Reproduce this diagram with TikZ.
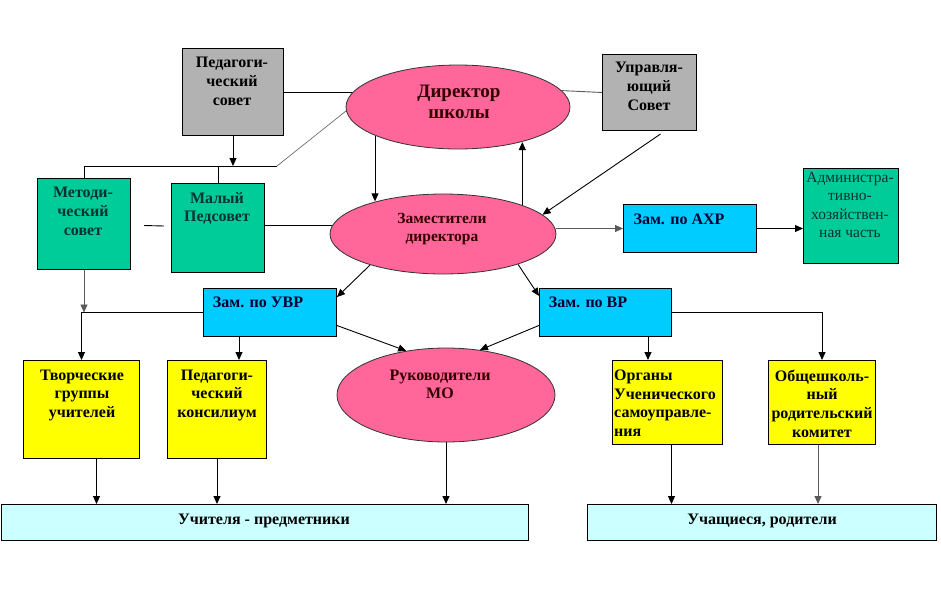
\documentclass[tikz,border=0pt]{standalone}
\usepackage{fontspec}
\setmainfont{Liberation Serif}
\usetikzlibrary{arrows.meta,shapes.geometric,calc,backgrounds}
\definecolor{cgray}{RGB}{178,178,178}
\definecolor{cpink}{RGB}{255,102,153}
\definecolor{cteal}{RGB}{0,204,153}
\definecolor{ccyan}{RGB}{0,204,255}
\definecolor{cyell}{RGB}{255,255,0}
\definecolor{clcyan}{RGB}{204,255,255}
\definecolor{tteal}{RGB}{0,51,51}
\definecolor{tpink}{RGB}{51,0,0}
\definecolor{tcyan}{RGB}{0,0,51}
\definecolor{lgray}{RGB}{90,90,90}
\begin{document}
\begin{tikzpicture}[x=1pt,y=-1pt,
 box/.style={draw=black, line width=1pt, inner sep=0pt, anchor=north west},
 oval/.style={ellipse, draw=black!80, line width=0.8pt, fill=cpink, inner sep=0pt},
 lbl/.style={inner sep=0pt, font=\bfseries\fontsize{16}{18.7}\selectfont, align=center, anchor=north},
 con/.style={line width=0.9pt, draw=black},
 gcon/.style={line width=0.9pt, draw=lgray},
 arr/.style={con, -{Triangle[length=8pt,width=7pt]}},
 garr/.style={gcon, -{Triangle[length=8pt,width=7pt]}},
 ]
\useasboundingbox (0,0) rectangle (941,600);

% boxes
\node[box, fill=cgray, minimum width=101pt, minimum height=87pt] (ps) at (182,48) {};
\node[box, fill=cgray, minimum width=94pt, minimum height=76pt] (upr) at (602,54) {};
\node[box, fill=cteal, minimum width=93pt, minimum height=91pt] (met) at (37,178) {};
\node[box, fill=cteal, minimum width=93pt, minimum height=89pt] (maly) at (171,183) {};
\node[box, fill=ccyan, minimum width=133pt, minimum height=48pt] (axr) at (623,204) {};
\node[box, fill=cteal, minimum width=95pt, minimum height=95pt] (adm) at (803,168) {};
\node[box, fill=ccyan, minimum width=133pt, minimum height=48pt] (uvr) at (203,288) {};
\node[box, fill=ccyan, minimum width=132pt, minimum height=48pt] (vr) at (539,288) {};
\node[box, fill=cyell, minimum width=116pt, minimum height=98pt] (tvo) at (23,360) {};
\node[box, fill=cyell, minimum width=99pt, minimum height=98pt] (pk) at (167,360) {};
\node[box, fill=cyell, minimum width=110pt, minimum height=84pt] (org) at (612,360) {};
\node[box, fill=cyell, minimum width=107pt, minimum height=84pt] (obs) at (768,360) {};
\node[box, fill=clcyan, minimum width=527pt, minimum height=36pt] (uch) at (0.5,504) {};
\node[box, fill=clcyan, minimum width=349pt, minimum height=36pt] (ucr) at (587,504) {};
% ellipses
\node[oval, minimum width=224pt, minimum height=84pt] (dir) at (458,107) {};
\node[oval, minimum width=226pt, minimum height=80pt] (zam) at (443,234) {};
\node[oval, minimum width=218pt, minimum height=94pt] (ruk) at (446,395) {};

% texts
\node[lbl] (pst) at (232,57) {Педагоги-\\ческий\\совет};
\node[lbl, font=\bfseries\fontsize{19}{21}\selectfont, text=tpink] (dirt) at (459,85) {Директор\\школы};
\node[lbl] (uprt) at (649,62) {Управля-\\ющий\\Совет};
\node[lbl, text=tteal] (mett) at (83,187) {Методи-\\ческий\\совет};
\node[lbl, text=tteal] (malyt) at (217,192) {Малый\\Педсовет};
\node[lbl, font=\bfseries\fontsize{15.5}{18}\selectfont, text=tpink] (zamt) at (442,213.5) {Заместители\\директора};
\node[lbl, text=tcyan] (axrt) at (679,213.5) {Зам. по АХР};
\node[lbl, font=\fontsize{15.5}{18.3}\selectfont, text=tteal] (admt) at (850,172) {Администра-\\тивно-\\хозяйствен-\\ная часть};
\node[lbl, text=tcyan] (uvrt) at (258,296.5) {Зам. по УВР};
\node[lbl, text=tcyan] (vrt) at (588,296.5) {Зам. по ВР};
\node[lbl] (tvot) at (82,369.5) {Творческие\\группы\\учителей};
\node[lbl] (pkt) at (217,369.5) {Педагоги-\\ческий\\консилиум};
\node[lbl, text=tpink] (rukt) at (440,369.5) {Руководители\\МО};
\node[lbl, align=left, anchor=north west] (orgt) at (614,369.5) {Органы\\Ученического\\самоуправле-\\ния};
\node[lbl] (obst) at (822,369.5) {Общешколь-\\ный\\родительский\\комитет};
\node[lbl] (ucht) at (264,513.5) {Учителя - предметники};
\node[lbl] (ucrt) at (762,513.5) {Учащиеся, родители};

% connectors
\begin{pgfonlayer}{background}
\fill[white] (0,0) rectangle (941,600);
\draw[con] (ps.east) -- (ps.east -| dir.172);
\draw[gcon] (dir.9) -- (upr.west);
\coordinate (busR) at (277,166);
\draw[gcon, line width=0.6pt] (dir.182) -- (busR);
\draw[con] (busR) -- (busR -| met.north) -- (met.north);
\draw[arr] (ps.south) -- (ps.south |- busR);
\draw[con] (maly.north) -- (maly.north |- busR);
\draw[con] ($(met.east)+(13,1.5)$) -- ($(maly.west)+(-7,-2)$);
\draw[con] ($(maly.east)+(0,-2.5)$) -- ($(maly.east -| zam.175)+(0,-2.5)$);
\draw[arr] (dir.199) -- (dir.199 |- zam.154);
\draw[arr] (zam.20) -- (zam.20 |- dir.331);
\draw[arr] ($(upr.south)+(11,3)$) -- (zam.11);
\draw[garr] (axr.west -| zam.east) -- (axr.west);
\draw[arr] (axr.east) -- (axr.east -| adm.west);
\draw[arr] (zam.203) -- (uvr.13);
\draw[arr] (zam.338) -- (vr.166);
\draw[garr] (met.south) -- (met.south |- uvr.west);
\draw[arr] (uvr.west) -- (uvr.west -| tvo.north) -- (tvo.north);
\draw[arr] ($(uvr.south west)+(36,0)$) -- ($(pk.north west)+(72,0)$);
\draw[arr] (uvr.349) -- (ruk.132);
\draw[arr] (vr.191) -- (ruk.53);
\draw[arr] ($(vr.south west)+(109,0)$) -- ($(org.north west)+(36,0)$);
\draw[arr] (vr.east) -- (vr.east -| obs.north) -- (obs.north);
\coordinate (t1) at ($(tvo.south)+(15,0)$);
\draw[arr] (t1) -- (t1 |- uch.north);
\draw[arr] (pk.south) -- (pk.south |- uch.north);
\draw[arr] (ruk.south) -- (ruk.south |- uch.north);
\coordinate (t2) at ($(org.south)+(4,0)$);
\draw[arr] (t2) -- (t2 |- ucr.north);
\coordinate (t3) at ($(obs.south)+(-4,0)$);
\draw[garr] (t3) -- (t3 |- ucr.north);
\end{pgfonlayer}
\end{tikzpicture}
\end{document}
